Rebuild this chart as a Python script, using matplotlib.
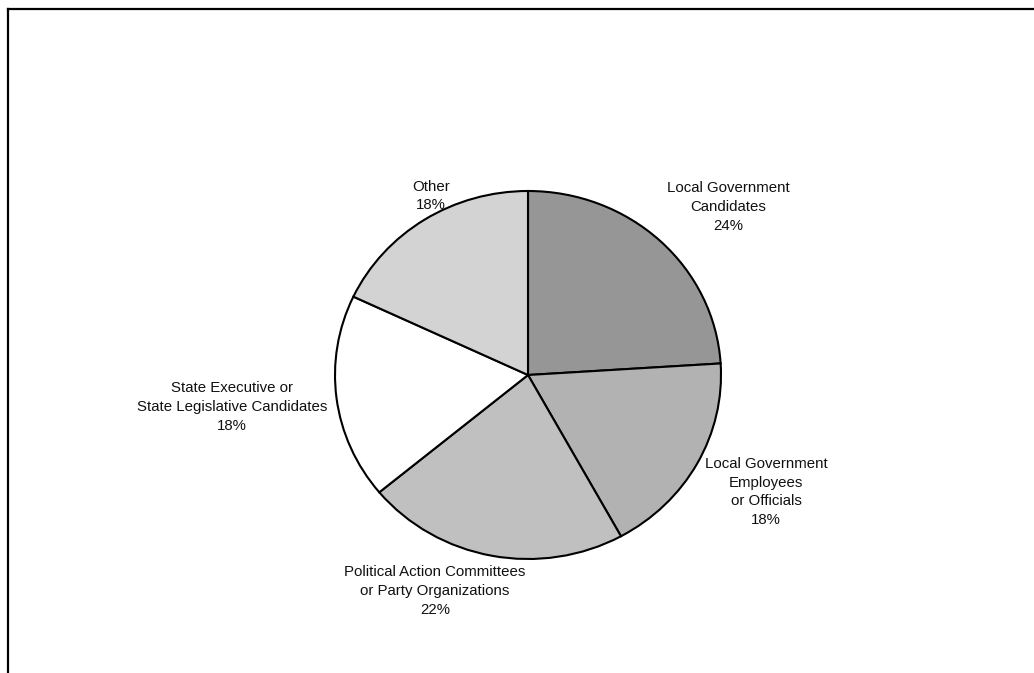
import numpy as np
import matplotlib
matplotlib.use('Agg')
import matplotlib.pyplot as plt
from matplotlib.lines import Line2D

plt.rcParams['font.family'] = ['Liberation Sans', 'DejaVu Sans']

# data
labels = ['Local Government\nCandidates',
          'Local Government\nEmployees\nor Officials',
          'Political Action Committees\nor Party Organizations',
          'State Executive or\nState Legislative Candidates',
          'Other']
shares = [24, 18, 22, 18, 18]
colors = ['#969696', '#b2b2b2', '#c0c0c0', '#ffffff', '#d3d3d3']

# where each label sits (pie radius = 1)
label_pos = [(1.036, 0.913), (1.233, -0.636), (-0.482, -1.174), (-1.534, -0.174), (-0.503, 0.973)]

fig = plt.figure(figsize=(10.34, 6.73), dpi=100)
ax = fig.add_axes([0, 0, 1, 1])

wedges, _ = ax.pie(shares, colors=colors, startangle=90, counterclock=False,
                   wedgeprops=dict(edgecolor='black', linewidth=1.5))
ax.set_aspect('auto')
# pie center at (528, 375) px, radii 193 x 184 px
ax.set_xlim(-528 / 193, (1034 - 528) / 193)
ax.set_ylim((375 - 673) / 184, 375 / 184)
ax.axis('off')

for lab, val, (x, y) in zip(labels, shares, label_pos):
    ax.text(x, y, f'{lab}\n{val}%', ha='center', va='center', multialignment='center',
            fontsize=10.8, linespacing=1.42, color='#111111')

# frame (only top and left edges visible)
fig.add_artist(Line2D([8 / 1034, 1.0], [1 - 8.5 / 673, 1 - 8.5 / 673], color='black', linewidth=1.6,
                      transform=fig.transFigure, solid_capstyle='projecting'))
fig.add_artist(Line2D([8 / 1034, 8 / 1034], [0.0, 1 - 8.5 / 673], color='black', linewidth=1.6,
                      transform=fig.transFigure, solid_capstyle='projecting'))

fig.savefig('out.png', dpi=100)
